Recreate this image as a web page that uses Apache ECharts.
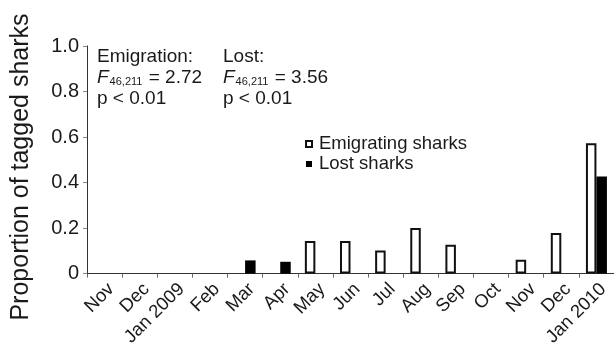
<!DOCTYPE html>
<html>
<head>
<meta charset="utf-8">
<script src="https://cdn.jsdelivr.net/npm/echarts@6/dist/echarts.min.js"></script>
<style>
  html, body { margin: 0; padding: 0; background: #fff; }
  #chart { width: 614px; height: 349px; }
</style>
</head>
<body>
<div id="chart"></div>
<script>
// Monthly proportion of tagged sharks that emigrated or were lost
const months = ['Nov', 'Dec', 'Jan 2009', 'Feb', 'Mar', 'Apr', 'May', 'Jun', 'Jul',
                'Aug', 'Sep', 'Oct', 'Nov', 'Dec', 'Jan 2010'];
const emigrating = [0, 0, 0, 0, 0, 0, 0.143, 0.143, 0.102, 0.200, 0.127, 0, 0.061, 0.178, 0.573];
const lost       = [0, 0, 0, 0, 0.058, 0.052, 0, 0, 0, 0, 0, 0, 0, 0, 0.427];
const yTicks = [0, 0.2, 0.4, 0.6, 0.8, 1.0];

const FONT = '"Liberation Sans", Arial, Helvetica, sans-serif';
const INK = '#1a1a1a';

// zero months have no bar at all (no outline either)
const asBars = arr => arr.map(v => (v === 0 ? '-' : v));

const chart = echarts.init(document.getElementById('chart'));

const statRich = {
  f: { fontFamily: FONT, fontSize: 19, fontStyle: 'italic', color: INK, lineHeight: 21 },
  sub: { fontFamily: FONT, fontSize: 11, color: INK, padding: [9, 1, 0, 1], lineHeight: 21 },
  t: { fontFamily: FONT, fontSize: 19, color: INK, lineHeight: 21 }
};

function statBlock(x, title, fval) {
  return {
    type: 'text',
    left: x,
    top: 46,
    style: {
      text: '{t|' + title + '}\n{f|F}{sub|46,211}{t| = ' + fval + '}\n{t|p < 0.01}',
      rich: statRich,
      fontFamily: FONT,
      fontSize: 19,
      lineHeight: 21,
      fill: INK
    }
  };
}

chart.setOption({
  animation: false,
  textStyle: { fontFamily: FONT, color: INK },
  grid: { left: 87, top: 46, width: 530, height: 229, containLabel: false },
  legend: {
    orient: 'vertical',
    left: 305,
    top: 134,
    padding: 0,
    itemWidth: 6,
    itemHeight: 6,
    itemGap: 0,
    icon: 'rect',
    textStyle: { fontFamily: FONT, fontSize: 18.5, color: INK, lineHeight: 20, padding: [0, 0, 0, 2] },
    data: ['Emigrating sharks', 'Lost sharks']
  },
  xAxis: {
    type: 'category',
    data: months,
    boundaryGap: true,
    axisLine: { lineStyle: { color: '#333', width: 1 } },
    axisTick: { show: true, length: 4, alignWithLabel: false, lineStyle: { color: '#666' } },
    axisLabel: {
      rotate: 45,
      interval: 0,
      margin: 6,
      verticalAlign: 'top',
      fontFamily: FONT,
      fontSize: 18.5,
      color: INK
    }
  },
  yAxis: {
    type: 'value',
    min: 0,
    max: 1,
    interval: 0.2,
    splitLine: { show: false },
    axisLine: { show: true, lineStyle: { color: '#333', width: 1 } },
    axisTick: { show: true, length: 4, lineStyle: { color: '#888' } },
    axisLabel: {
      fontFamily: FONT,
      fontSize: 20,
      color: INK,
      margin: 8,
      formatter: v => {
        const t = yTicks.find(k => Math.abs(k - v) < 1e-9);
        return t === 0 ? '0' : t.toFixed(1);
      }
    }
  },
  series: [
    {
      name: 'Emigrating sharks',
      type: 'bar',
      data: asBars(emigrating),
      barWidth: 10.5,
      barGap: '0%',
      itemStyle: { color: '#fff', borderColor: '#111', borderWidth: 2 }
    },
    {
      name: 'Lost sharks',
      type: 'bar',
      data: asBars(lost),
      barWidth: 10.5,
      barGap: '0%',
      itemStyle: { color: '#000', borderColor: '#000', borderWidth: 0 }
    }
  ],
  graphic: [
    {
      type: 'text',
      x: 21,
      y: 167,
      rotation: Math.PI / 2,
      style: {
        text: 'Proportion of tagged sharks',
        fontFamily: FONT,
        fontSize: 25,
        fill: INK,
        align: 'center',
        verticalAlign: 'middle'
      }
    },
    statBlock(97, 'Emigration:', '2.72'),
    statBlock(223, 'Lost:', '3.56')
  ]
});
</script>
</body>
</html>
